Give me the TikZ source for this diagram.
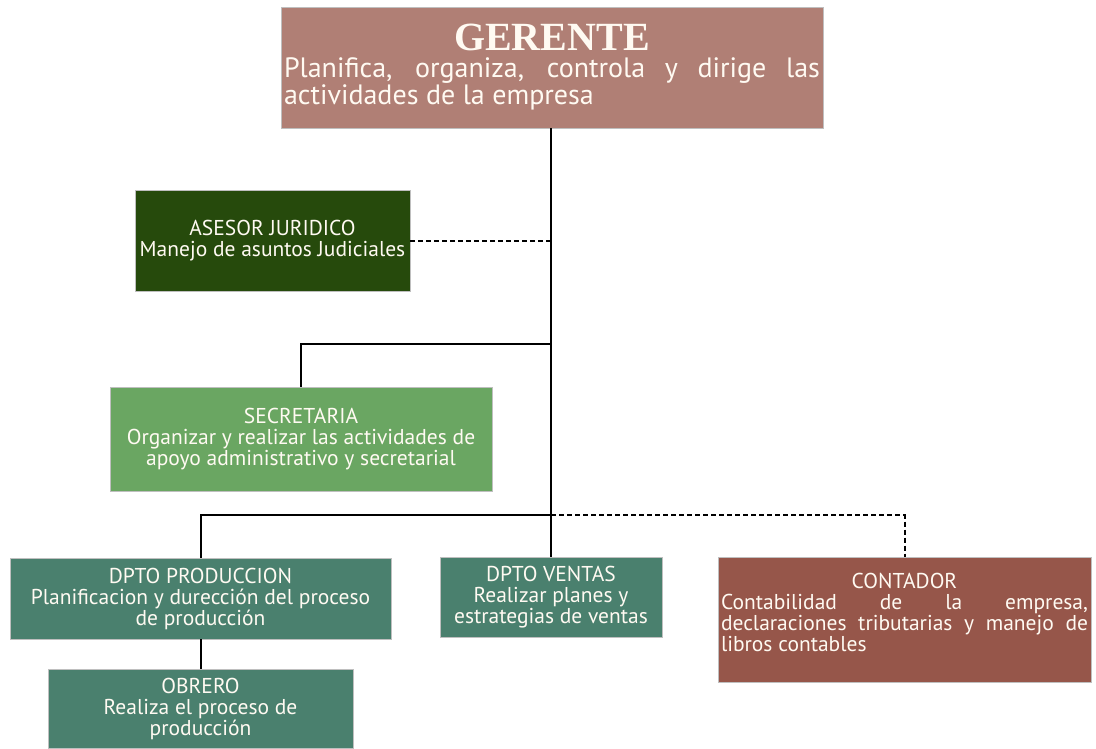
\documentclass[tikz,border=0pt]{standalone}
\usepackage{fontspec}
\setmainfont{PT Sans}
\newfontfamily\titlefont{Liberation Serif}
\definecolor{gerc}{RGB}{176,127,117}
\definecolor{asec}{RGB}{38,74,12}
\definecolor{secc}{RGB}{106,166,98}
\definecolor{tealc}{RGB}{74,128,110}
\definecolor{contc}{RGB}{150,86,74}
\definecolor{txtc}{RGB}{255,250,242}
\tikzset{
  box/.style={rectangle, inner sep=0pt, text=txtc, draw=white!75!black, line width=0.6pt,
    font=\fontsize{21.5}{21}\selectfont, align=center},
  link/.style={line width=2pt, black},
  dlink/.style={line width=2pt, black, dash pattern=on 5pt off 3pt},
}
\begin{document}
\begin{tikzpicture}[x=1pt,y=-1pt]
\useasboundingbox (0,0) rectangle (1096,748);
\node[box, fill=gerc, minimum width=542pt, minimum height=121pt, text width=536pt, align=justify,
      font=\fontsize{28}{27}\selectfont] (gerente) at (552,67.5)
  {\hyphenpenalty=10000 \makebox[\linewidth][c]{\titlefont\bfseries\fontsize{40}{36}\selectfont GERENTE}\par
   Planifica, organiza, controla y dirige las\linebreak actividades de la empresa};
\node[box, fill=asec, minimum width=275pt, minimum height=101pt] (asesor) at (272.5,240.5)
  {ASESOR JURIDICO\\Manejo de asuntos Judiciales};
\node[box, fill=secc, minimum width=382pt, minimum height=104pt] (secre) at (301,439)
  {SECRETARIA\\Organizar y realizar las actividades de\\apoyo administrativo y secretarial};
\node[box, fill=tealc, minimum width=381pt, minimum height=81pt] (prod) at (200.5,598.5)
  {DPTO PRODUCCION\\Planificacion y durección del proceso\\de producción};
\node[box, fill=tealc, minimum width=305pt, minimum height=79pt] (obrero) at (200.5,708.5)
  {OBRERO\\Realiza el proceso de\\producción};
\node[box, fill=tealc, minimum width=222pt, minimum height=80pt] (ventas) at (551,597)
  {DPTO VENTAS\\Realizar planes y\\estrategias de ventas};
\node[box, fill=contc, minimum width=373pt, minimum height=125pt, text width=367pt, align=justify] (contador) at (904.5,619.5)
  {\hyphenpenalty=10000 \makebox[\linewidth][c]{CONTADOR}\par
   Contabilidad de la empresa,\linebreak declaraciones tributarias y manejo de\linebreak libros contables\par\vspace{14pt}};
\coordinate (j1) at (551,344);
\coordinate (j2) at (551,515);
\draw[link] (gerente.south -| ventas.north) -- (ventas.north);
\draw[dlink] (asesor.east) -- (asesor.east -| ventas.north);
\draw[link] (j1) -| (secre.north);
\draw[link] (j2) -| (prod.north);
\draw[dlink] (j2) -| (contador.north);
\draw[link] (prod.south) -- (obrero.north);
\end{tikzpicture}
\end{document}
